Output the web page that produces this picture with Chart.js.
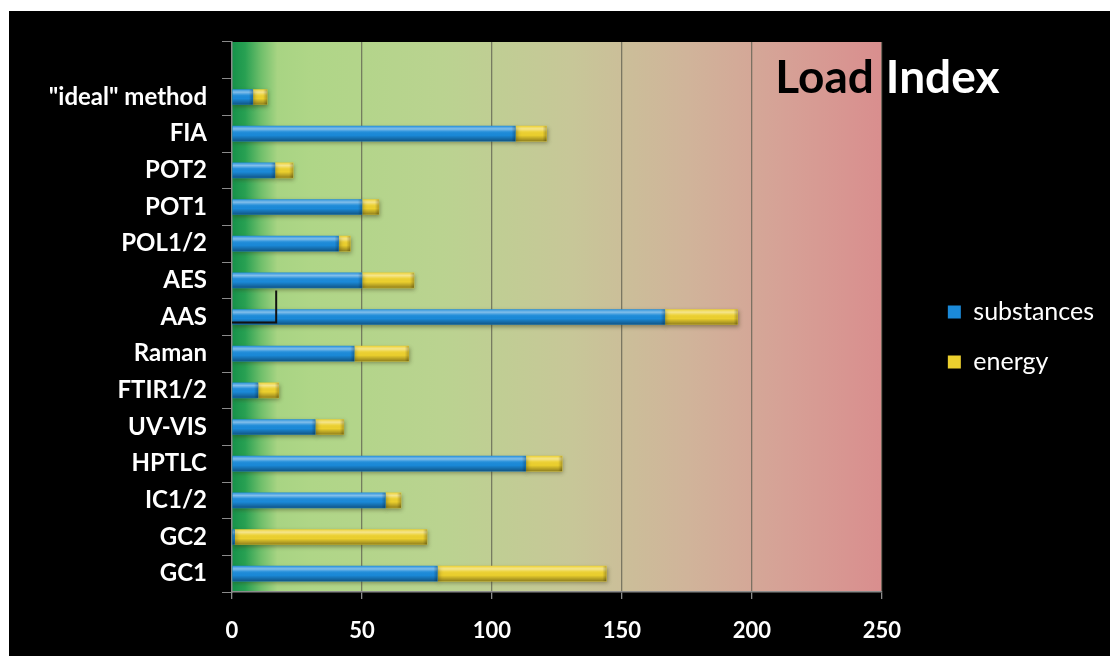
<!DOCTYPE html>
<html>
<head>
<meta charset="utf-8">
<script src="https://cdn.jsdelivr.net/npm/chart.js@4"></script>
<style>
  html, body { margin: 0; padding: 0; background: #fff; width: 1110px; height: 656px; overflow: hidden; }
  #frame { position: absolute; left: 9px; top: 11px; width: 1101px; height: 645px; background: #000; }
</style>
</head>
<body>
<div id="frame"><canvas id="c" width="1101" height="645"></canvas></div>
<script>
// Methods, top to bottom (the first row is left empty for the heading)
const categories = ['', '"ideal" method', 'FIA', 'POT2', 'POT1', 'POL1/2', 'AES', 'AAS', 'Raman', 'FTIR1/2', 'UV-VIS', 'HPTLC', 'IC1/2', 'GC2', 'GC1'];
const substances = [null, 8, 109, 16.5, 50, 41, 50, 166.5, 47, 10, 32, 113, 59, 1, 79];
const energy     = [null, 5.5, 12, 7, 6.5, 4.5, 20, 28, 21, 8, 11, 14, 6, 74, 65];
const xTicks = [0, 50, 100, 150, 200, 250];
const seriesNames = ['substances', 'energy'];
const titleWords = ['Load', 'Index'];
const markedMethod = 'AAS';
const markedValue = 17;

// green -> pink band behind the plot
const zoneBackground = {
  id: 'zoneBackground',
  beforeDraw(chart) {
    const { ctx, chartArea: a } = chart;
    const g = ctx.createLinearGradient(a.left, 0, a.right, 0);
    g.addColorStop(0.00, '#15924a');
    g.addColorStop(0.02, '#28a052');
    g.addColorStop(0.045, '#70bf6b');
    g.addColorStop(0.07, '#a8d483');
    g.addColorStop(0.12, '#afd687');
    g.addColorStop(0.32, '#bad390');
    g.addColorStop(0.52, '#c7c798');
    g.addColorStop(0.70, '#d0b49a');
    g.addColorStop(0.85, '#d6a196');
    g.addColorStop(1.00, '#d98e8e');
    ctx.save();
    ctx.fillStyle = g;
    ctx.fillRect(a.left, a.top, a.right - a.left, a.bottom - a.top);
    ctx.restore();
  }
};

// soft drop shadow and cylinder shading on the bars
const barShade = {
  id: 'barShade',
  beforeDatasetDraw(chart) {
    const ctx = chart.ctx;
    ctx.save();
    ctx.shadowColor = 'rgba(60, 55, 20, 0.45)';
    ctx.shadowBlur = 4;
    ctx.shadowOffsetY = 2;
    ctx.shadowOffsetX = 1;
  },
  afterDatasetDraw(chart, args) {
    const ctx = chart.ctx;
    ctx.restore();
    ctx.save();
    args.meta.data.forEach(bar => {
      const p = bar.getProps(['x', 'y', 'base', 'height'], true);
      if (p.x == null || isNaN(p.x) || Math.abs(p.x - p.base) < 0.5) return;
      const top = p.y - p.height / 2;
      const h = p.height;
      const left = Math.min(p.x, p.base);
      const w = Math.abs(p.x - p.base);
      const g = ctx.createLinearGradient(0, top, 0, top + h);
      g.addColorStop(0.00, 'rgba(255,255,255,0.10)');
      g.addColorStop(0.18, 'rgba(255,255,255,0.45)');
      g.addColorStop(0.38, 'rgba(255,255,255,0.05)');
      g.addColorStop(0.60, 'rgba(0,0,0,0)');
      g.addColorStop(1.00, 'rgba(0,0,0,0.38)');
      ctx.fillStyle = g;
      ctx.fillRect(left, top, w, h);
      // bevelled right end
      const e = ctx.createLinearGradient(left + w - 4, 0, left + w, 0);
      e.addColorStop(0, 'rgba(0,0,0,0)');
      e.addColorStop(1, 'rgba(0,0,0,0.25)');
      ctx.fillStyle = e;
      ctx.fillRect(left + w - 4, top, 4, h);
    });
    ctx.restore();
  }
};

// thin black marker line on one bar
const barMarker = {
  id: 'barMarker',
  afterDatasetsDraw(chart) {
    const i = categories.indexOf(markedMethod);
    const bar = chart.getDatasetMeta(0).data[i];
    if (!bar) return;
    const { ctx } = chart;
    const x = chart.scales.x.getPixelForValue(markedValue);
    const base = chart.scales.x.getPixelForValue(0);
    const p = bar.getProps(['y', 'height'], true);
    ctx.save();
    ctx.strokeStyle = '#111';
    ctx.lineWidth = 2;
    ctx.beginPath();
    ctx.moveTo(x, p.y - p.height / 2 - 19);
    ctx.lineTo(x, p.y + p.height / 2 - 2);
    ctx.lineTo(base, p.y + p.height / 2 - 2);
    ctx.stroke();
    ctx.restore();
  }
};

// heading straddling the right edge of the plot
const heading = {
  id: 'heading',
  afterDraw(chart) {
    const { ctx, chartArea: a } = chart;
    ctx.save();
    ctx.font = 'bold 46px Lato';
    ctx.textBaseline = 'alphabetic';
    ctx.fillStyle = '#000';
    ctx.textAlign = 'right';
    ctx.fillText(titleWords[0], a.right - 8, a.top + 51);
    ctx.fillStyle = '#fff';
    ctx.textAlign = 'left';
    ctx.fillText(titleWords[1], a.right + 4, a.top + 51);
    ctx.restore();
  }
};

new Chart(document.getElementById('c'), {
  type: 'bar',
  data: {
    labels: categories,
    datasets: [
      { label: seriesNames[0], data: substances, backgroundColor: '#1b8ad9', borderWidth: 0 },
      { label: seriesNames[1], data: energy, backgroundColor: '#ecd02e', borderWidth: 0 }
    ]
  },
  options: {
    indexAxis: 'y',
    responsive: false,
    animation: false,
    devicePixelRatio: 1,
    barThickness: 15,
    layout: { padding: { top: 31, bottom: 0, left: 0, right: 6 } },
    scales: {
      x: {
        stacked: true,
        min: 0,
        max: 250,
        afterBuildTicks: s => { s.ticks = xTicks.map(v => ({ value: v })); },
        afterFit: s => { s.height = 64; },
        grid: {
          color: c => (c.tick && c.tick.value === 0) ? 'rgba(0,0,0,0)' : 'rgba(95,95,80,0.75)',
          lineWidth: 1.3,
          drawTicks: true,
          tickLength: 7,
          tickColor: '#8a8a8a'
        },
        border: { display: true, color: '#8a8a8a', width: 1.5 },
        ticks: { color: '#fff', font: { family: 'Lato', weight: 'bold', size: 22 }, padding: 19 }
      },
      y: {
        stacked: true,
        afterFit: s => { s.width = 223; },
        grid: { drawOnChartArea: false, drawTicks: true, tickLength: 10, tickColor: '#8a8a8a', offset: true },
        border: { display: true, color: '#8a8a8a', width: 1.5 },
        ticks: { color: '#fff', font: { family: 'Lato', weight: 'bold', size: 24 }, padding: 15 }
      },
      gap: {
        type: 'linear',
        axis: 'y',
        position: 'right',
        display: true,
        grid: { display: false, drawTicks: false },
        border: { display: false },
        ticks: { display: false },
        afterFit: s => { s.width = 41; }
      }
    },
    plugins: {
      legend: {
        position: 'right',
        fullSize: false,
        title: { display: true, text: '', font: { size: 10, lineHeight: 1.2 }, padding: { top: 14, bottom: 14 } },
        labels: {
          color: '#fff',
          font: { family: 'Lato', size: 25 },
          boxWidth: 13,
          boxHeight: 13,
          padding: 25
        }
      },
      tooltip: { enabled: false }
    }
  },
  plugins: [zoneBackground, barShade, barMarker, heading]
});
</script>
</body>
</html>
